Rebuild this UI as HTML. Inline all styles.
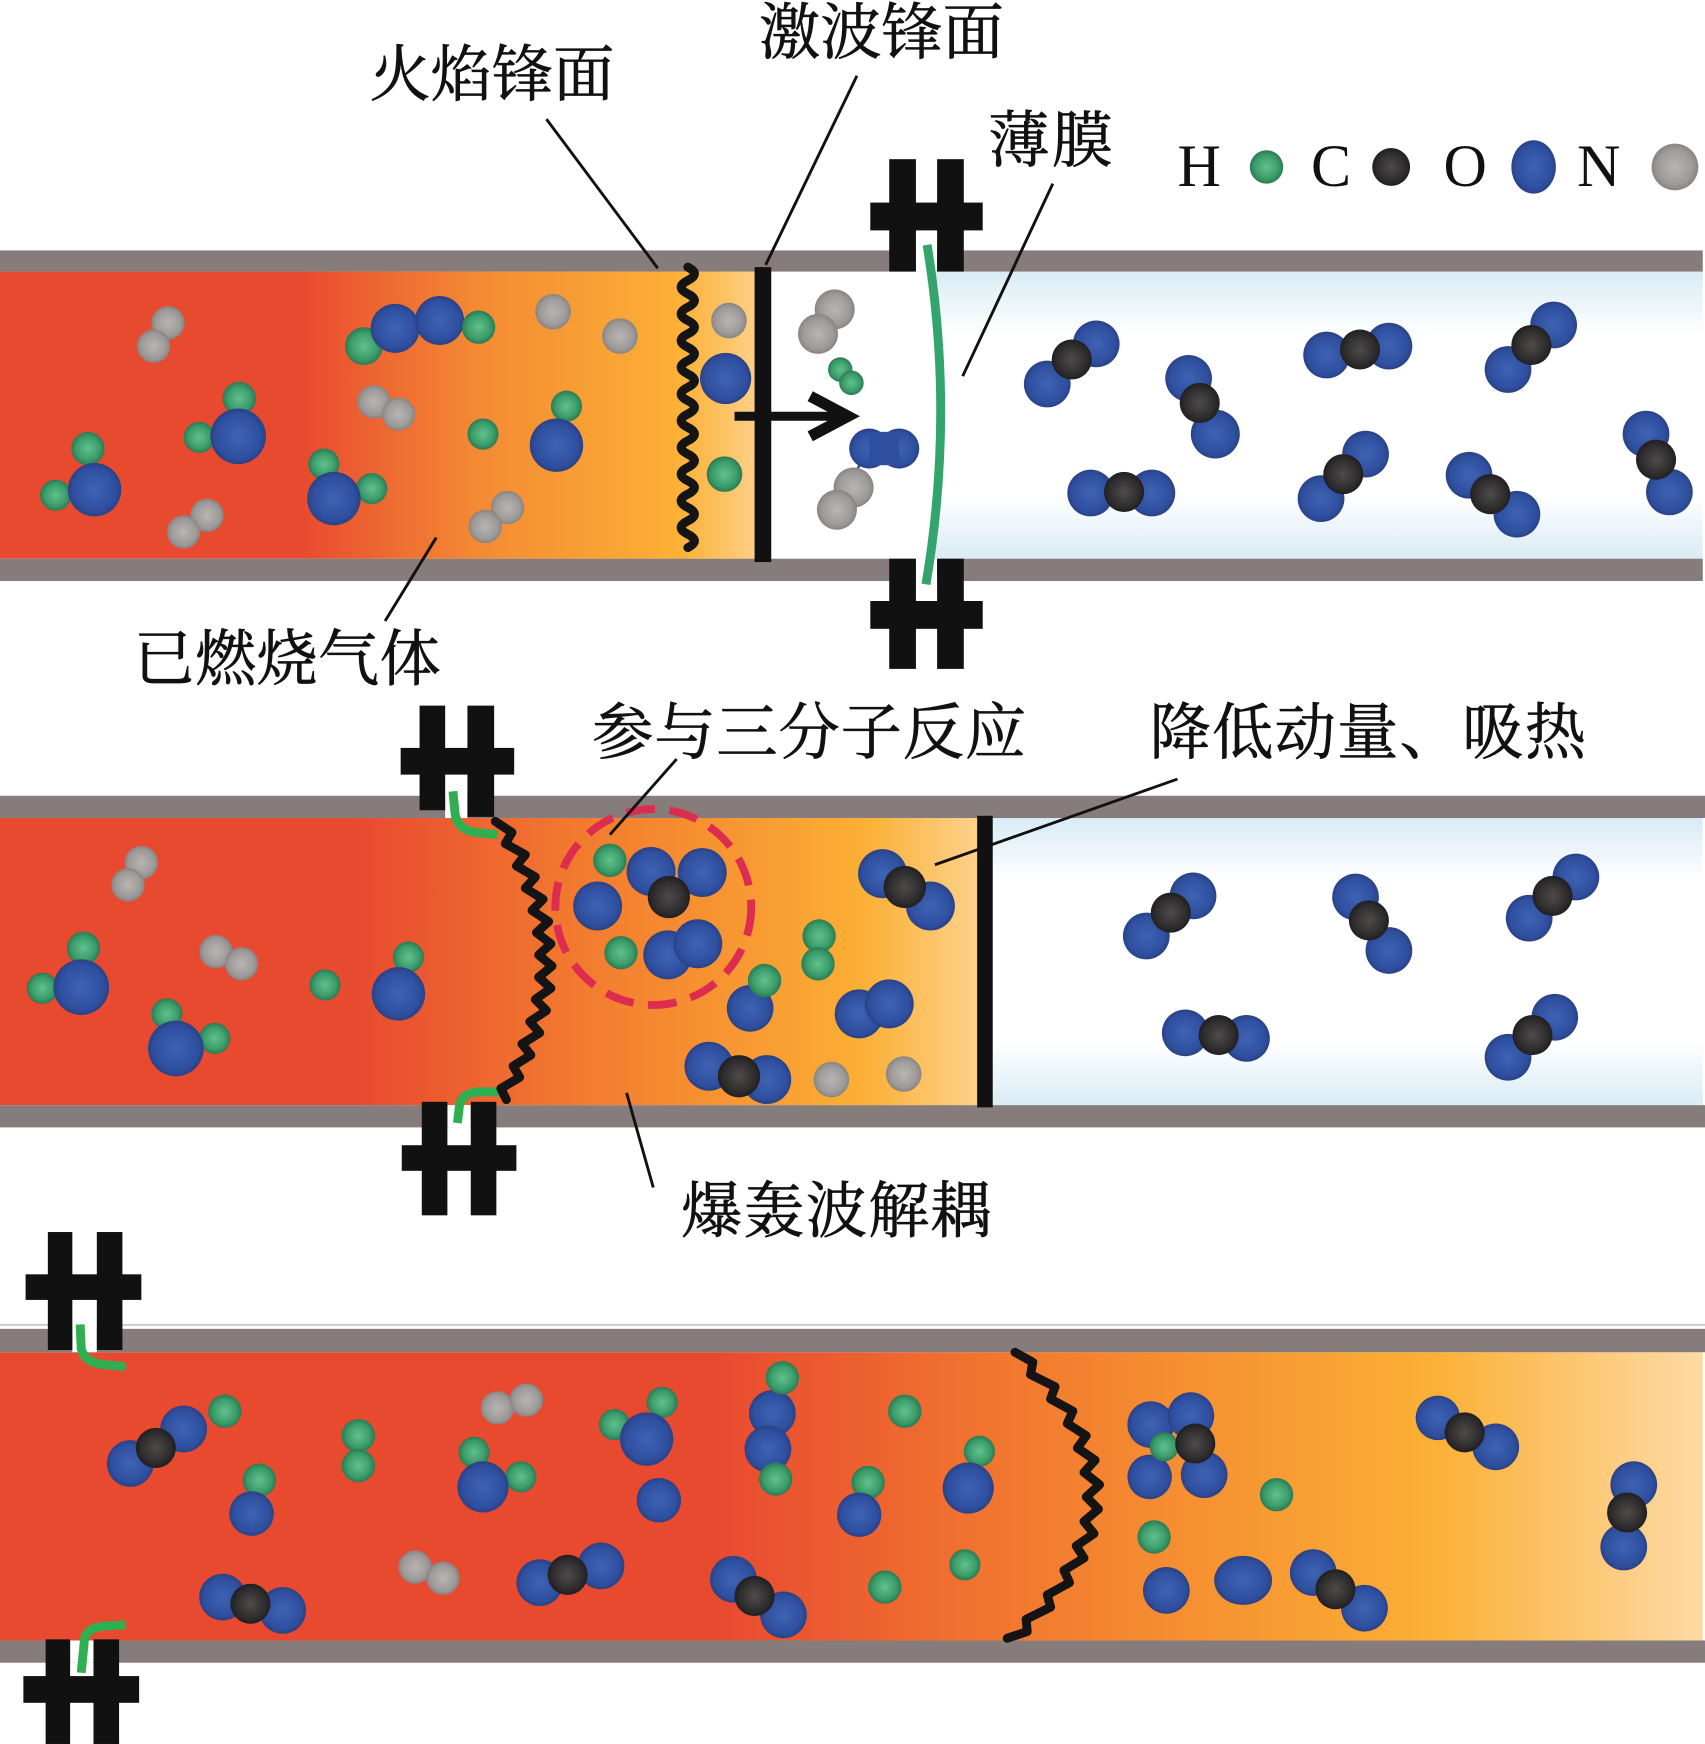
<!DOCTYPE html>
<html lang="zh"><head><meta charset="utf-8"><title>Diagram</title>
<style>
html,body{margin:0;padding:0;background:#fff}
svg{display:block}
.g{fill:url(#ag)}.b{fill:url(#ab)}.k{fill:url(#ak)}.n{fill:url(#an)}
.t{font-family:"Liberation Serif","Noto Serif CJK SC",serif;font-size:55px;fill:#111;stroke:#111;stroke-width:.6}
.l{font-family:"Liberation Serif",serif;font-size:54px;fill:#111}
.ln{stroke:#111;stroke-width:2.6;fill:none}
.c{fill:#111}
.wall{fill:#857c7b}
.fl{fill:none;stroke:#141414;stroke-width:8;stroke-linejoin:round;stroke-linecap:round}
.gf{fill:none;stroke:#2fae52;stroke-width:8}
</style></head><body>
<svg width="1705" height="1744" viewBox="0 0 1532 1567" xmlns="http://www.w3.org/2000/svg">
<defs>
<radialGradient id="ag"><stop offset="0" stop-color="#62c08e"/><stop offset=".7" stop-color="#3b9d6a"/><stop offset="1" stop-color="#2b7a54"/></radialGradient>
<radialGradient id="ab"><stop offset="0" stop-color="#3f63b3"/><stop offset=".8" stop-color="#2f4f9f"/><stop offset="1" stop-color="#2a4185"/></radialGradient>
<radialGradient id="ak"><stop offset="0" stop-color="#4e4c4b"/><stop offset=".8" stop-color="#2c2a2a"/><stop offset="1" stop-color="#201f1f"/></radialGradient>
<radialGradient id="an"><stop offset="0" stop-color="#b8b5b3"/><stop offset=".75" stop-color="#9d9a99"/><stop offset="1" stop-color="#878482"/></radialGradient>
<linearGradient id="t1" gradientUnits="userSpaceOnUse" x1="0" y1="0" x2="692" y2="0"><stop offset="0" stop-color="#e84a30"/><stop offset=".39" stop-color="#e84a30"/><stop offset=".62" stop-color="#f48a34"/><stop offset=".88" stop-color="#fcb035"/><stop offset="1" stop-color="#fdd594"/></linearGradient>
<linearGradient id="t2" gradientUnits="userSpaceOnUse" x1="0" y1="0" x2="890" y2="0"><stop offset="0" stop-color="#e84a30"/><stop offset=".36" stop-color="#e84a30"/><stop offset=".58" stop-color="#f2792f"/><stop offset=".87" stop-color="#fbaf34"/><stop offset="1" stop-color="#fdd594"/></linearGradient>
<linearGradient id="t3" gradientUnits="userSpaceOnUse" x1="0" y1="0" x2="1532" y2="0"><stop offset="0" stop-color="#e84a30"/><stop offset=".42" stop-color="#e84a30"/><stop offset=".6" stop-color="#f27a2f"/><stop offset=".84" stop-color="#fbb035"/><stop offset="1" stop-color="#fddaa6"/></linearGradient>
<linearGradient id="bl" x1="0" y1="0" x2="0" y2="1"><stop offset="0" stop-color="#d9ebf5"/><stop offset=".22" stop-color="#fff"/><stop offset=".78" stop-color="#fff"/><stop offset="1" stop-color="#d9ebf5"/></linearGradient>
</defs>

<!-- Tube 1 -->
<rect x="0" y="244" width="692" height="258" fill="url(#t1)"/>
<rect x="836" y="244" width="694" height="258" fill="url(#bl)"/>
<rect class="wall" x="0" y="225" width="1530" height="19"/>
<rect class="wall" x="0" y="502" width="1530" height="20"/>
<rect x="823" y="143" width="19" height="101" fill="#fff"/>
<rect x="823" y="502" width="19" height="20" fill="#fff"/>
<rect class="c" x="799" y="143" width="24" height="101"/><rect class="c" x="842" y="143" width="24" height="101"/><rect class="c" x="782" y="182" width="101" height="25"/>
<rect class="c" x="799" y="502" width="24" height="99"/><rect class="c" x="842" y="502" width="24" height="99"/><rect class="c" x="782" y="540" width="101" height="25"/>
<path d="M833 220Q858 372 832 525" fill="none" stroke="#33a56c" stroke-width="8"/>
<rect class="c" x="678" y="240" width="15" height="265"/>
<path class="fl" d="M618 240q12 6 0 12t0 12t0 12t0 12t0 12t0 12t0 12t0 12t0 12t0 12t0 12t0 12t0 12t0 12t0 12t0 12t0 12t0 12t0 12t0 12t0 12"/>
<path d="M660 374H758" stroke="#111" stroke-width="8" fill="none"/>
<path d="M728 356L762 374L728 392" stroke="#111" stroke-width="10" fill="none"/>

<circle class="n" cx="151" cy="290" r="15"/><circle class="n" cx="138" cy="311" r="15"/>
<circle class="g" cx="327" cy="311" r="17"/><circle class="b" cx="355" cy="295" r="22"/><circle class="b" cx="395" cy="288" r="22"/><circle class="g" cx="430" cy="294" r="15"/>
<circle class="n" cx="497" cy="280" r="16"/><circle class="n" cx="557" cy="302" r="16"/><circle class="n" cx="655" cy="288" r="16"/>
<circle class="b" cx="652" cy="340" r="23"/><circle class="g" cx="651" cy="426" r="16"/>
<circle class="g" cx="215" cy="358" r="15"/><circle class="g" cx="179" cy="393" r="14"/><circle class="b" cx="214" cy="392" r="25"/>
<circle class="n" cx="336" cy="361" r="15"/><circle class="n" cx="358" cy="372" r="15"/>
<circle class="g" cx="434" cy="390" r="14"/><circle class="g" cx="509" cy="365" r="14"/><circle class="b" cx="500" cy="400" r="24"/>
<circle class="g" cx="79" cy="403" r="15"/><circle class="g" cx="50" cy="445" r="14"/><circle class="b" cx="85" cy="440" r="24"/>
<circle class="g" cx="291" cy="417" r="14"/><circle class="g" cx="334" cy="439" r="14"/><circle class="b" cx="300" cy="448" r="24"/>
<circle class="n" cx="186" cy="463" r="15"/><circle class="n" cx="165" cy="478" r="15"/><circle class="n" cx="456" cy="456" r="15"/><circle class="n" cx="436" cy="473" r="15"/>
<circle class="n" cx="750" cy="278" r="18"/><circle class="n" cx="735" cy="300" r="18"/>
<circle class="g" cx="755" cy="332" r="11"/><circle class="g" cx="765" cy="344" r="11"/>
<path d="M782 403L768 425" stroke="#2a4185" stroke-width="2"/>
<circle class="b" cx="781" cy="403" r="18"/><circle class="b" cx="808" cy="403" r="18"/><rect x="781" y="388" width="27" height="30" fill="#2f4f9f"/>
<circle class="n" cx="767" cy="438" r="18"/><circle class="n" cx="752" cy="458" r="18"/>
<circle class="b" cx="941" cy="345" r="21"/><circle class="b" cx="985" cy="309" r="21"/><circle class="k" cx="963" cy="323" r="18"/>
<circle class="b" cx="1068" cy="340" r="21"/><circle class="b" cx="1092" cy="390" r="22"/><circle class="k" cx="1078" cy="362" r="18"/>
<circle class="b" cx="1192" cy="319" r="21"/><circle class="b" cx="1248" cy="311" r="21"/><circle class="k" cx="1222" cy="314" r="18"/>
<circle class="b" cx="1355" cy="332" r="21"/><circle class="b" cx="1396" cy="292" r="21"/><circle class="k" cx="1376" cy="310" r="18"/>
<circle class="b" cx="980" cy="443" r="21"/><circle class="b" cx="1035" cy="443" r="21"/><circle class="k" cx="1010" cy="442" r="18"/>
<circle class="b" cx="1187" cy="448" r="21"/><circle class="b" cx="1227" cy="408" r="21"/><circle class="k" cx="1207" cy="426" r="18"/>
<circle class="b" cx="1320" cy="427" r="21"/><circle class="b" cx="1363" cy="462" r="21"/><circle class="k" cx="1339" cy="444" r="18"/>
<circle class="b" cx="1479" cy="390" r="21"/><circle class="b" cx="1500" cy="442" r="21"/><circle class="k" cx="1488" cy="413" r="18"/>

<!-- Tube 2 -->
<rect x="0" y="735" width="890" height="258" fill="url(#t2)"/>
<rect x="890" y="735" width="640" height="258" fill="url(#bl)"/>
<rect class="wall" x="0" y="715" width="1532" height="20"/>
<rect class="wall" x="0" y="993" width="1532" height="20"/>
<rect x="400" y="700" width="20" height="35" fill="#fff"/><rect x="402" y="993" width="21" height="20" fill="#fff"/>
<rect class="c" x="377" y="634" width="23" height="94"/><rect class="c" x="420" y="634" width="24" height="100"/><rect class="c" x="360" y="672" width="102" height="24"/>
<rect class="c" x="379" y="990" width="23" height="102"/><rect class="c" x="423" y="990" width="23" height="102"/><rect class="c" x="361" y="1029" width="103" height="23"/>
<path class="gf" d="M407 711L409 732Q412 746 428 748L447 750"/>
<path class="gf" d="M411 1009L413 992Q416 982 430 981L449 981"/>
<polyline class="fl" points="445,738 460,748 454,758 472,768 464,778 481,788 472,798 488,808 478,818 493,828 482,838 495,848 484,858 496,868 484,878 495,888 481,898 491,908 476,918 485,928 469,938 477,948 461,958 467,968 450,978 455,988"/>
<rect class="c" x="878" y="733" width="14" height="262"/>
<circle cx="587" cy="815" r="88" fill="none" stroke="#dc2c50" stroke-width="7" stroke-dasharray="26 13"/>

<circle class="n" cx="127" cy="775" r="15"/><circle class="n" cx="115" cy="795" r="15"/>
<circle class="g" cx="75" cy="852" r="15"/><circle class="g" cx="38" cy="888" r="14"/><circle class="b" cx="73" cy="887" r="25"/>
<circle class="n" cx="194" cy="855" r="15"/><circle class="n" cx="217" cy="866" r="15"/>
<circle class="g" cx="292" cy="885" r="14"/><circle class="g" cx="367" cy="860" r="14"/><circle class="b" cx="358" cy="893" r="24"/>
<circle class="g" cx="150" cy="911" r="14"/><circle class="g" cx="193" cy="933" r="14"/><circle class="b" cx="158" cy="942" r="25"/>
<circle class="g" cx="548" cy="773" r="15"/><circle class="b" cx="585" cy="783" r="22"/><circle class="b" cx="631" cy="784" r="22"/><circle class="k" cx="601" cy="806" r="19"/>
<circle class="b" cx="537" cy="814" r="22"/><circle class="g" cx="558" cy="856" r="15"/><circle class="b" cx="600" cy="858" r="22"/><circle class="b" cx="627" cy="848" r="22"/>
<circle class="b" cx="674" cy="906" r="21"/><circle class="g" cx="687" cy="881" r="15"/>
<circle class="g" cx="736" cy="841" r="15"/><circle class="g" cx="735" cy="866" r="15"/>
<circle class="b" cx="772" cy="911" r="22"/><circle class="b" cx="799" cy="902" r="22"/>
<circle class="b" cx="793" cy="785" r="22"/><circle class="b" cx="836" cy="814" r="22"/><circle class="k" cx="813" cy="797" r="19"/>
<circle class="b" cx="637" cy="958" r="22"/><circle class="b" cx="689" cy="970" r="22"/><circle class="k" cx="664" cy="967" r="19"/>
<circle class="n" cx="747" cy="970" r="16"/><circle class="n" cx="812" cy="965" r="16"/>
<circle class="b" cx="1030" cy="841" r="21"/><circle class="b" cx="1072" cy="805" r="21"/><circle class="k" cx="1052" cy="820" r="18"/>
<circle class="b" cx="1218" cy="806" r="21"/><circle class="b" cx="1248" cy="854" r="21"/><circle class="k" cx="1230" cy="827" r="18"/>
<circle class="b" cx="1374" cy="825" r="21"/><circle class="b" cx="1416" cy="788" r="21"/><circle class="k" cx="1395" cy="805" r="18"/>
<circle class="b" cx="1065" cy="928" r="21"/><circle class="b" cx="1120" cy="933" r="21"/><circle class="k" cx="1095" cy="930" r="18"/>
<circle class="b" cx="1355" cy="950" r="21"/><circle class="b" cx="1397" cy="914" r="21"/><circle class="k" cx="1377" cy="930" r="18"/>

<!-- Tube 3 -->
<rect x="0" y="1190" width="1532" height="1" fill="#aaa"/>
<rect x="0" y="1215" width="1530" height="259" fill="url(#t3)"/>
<rect class="wall" x="0" y="1194" width="1532" height="21"/>
<rect class="wall" x="0" y="1474" width="1532" height="20"/>
<rect x="65" y="1180" width="22" height="35" fill="#fff"/><rect x="63" y="1474" width="21" height="20" fill="#fff"/>
<rect class="c" x="43" y="1107" width="22" height="106"/><rect class="c" x="87" y="1107" width="23" height="106"/><rect class="c" x="23" y="1145" width="104" height="23"/>
<rect class="c" x="41" y="1473" width="22" height="94"/><rect class="c" x="84" y="1473" width="23" height="94"/><rect class="c" x="21" y="1506" width="104" height="24"/>
<path class="gf" d="M72 1190L73 1212Q76 1224 92 1226L113 1228"/>
<path class="gf" d="M73 1503L76 1472Q79 1462 94 1461L113 1460"/>
<polyline class="fl" points="912,1215 928,1224 926,1235 948,1246 944,1257 964,1268 959,1279 976,1290 968,1301 984,1312 974,1323 988,1334 976,1345 987,1356 974,1367 983,1378 967,1389 974,1400 956,1411 961,1422 941,1433 944,1444 922,1455 923,1466 905,1472"/>

<circle class="b" cx="117" cy="1315" r="21"/><circle class="b" cx="165" cy="1284" r="21"/><circle class="k" cx="140" cy="1301" r="18"/>
<circle class="g" cx="202" cy="1268" r="15"/><circle class="g" cx="322" cy="1290" r="15"/><circle class="g" cx="322" cy="1317" r="15"/>
<circle class="g" cx="233" cy="1330" r="15"/><circle class="b" cx="226" cy="1360" r="20"/>
<circle class="n" cx="447" cy="1265" r="15"/><circle class="n" cx="473" cy="1258" r="15"/>
<circle class="g" cx="426" cy="1305" r="14"/><circle class="g" cx="468" cy="1327" r="14"/><circle class="b" cx="434" cy="1336" r="23"/>
<circle class="g" cx="552" cy="1280" r="14"/><circle class="g" cx="595" cy="1260" r="14"/><circle class="b" cx="581" cy="1293" r="24"/>
<circle class="b" cx="592" cy="1348" r="20"/>
<circle class="b" cx="694" cy="1270" r="21"/><circle class="b" cx="690" cy="1302" r="21"/><circle class="g" cx="703" cy="1238" r="15"/><circle class="g" cx="697" cy="1329" r="15"/>
<circle class="g" cx="813" cy="1268" r="15"/><circle class="g" cx="780" cy="1332" r="15"/><circle class="b" cx="772" cy="1361" r="20"/>
<circle class="g" cx="880" cy="1304" r="14"/><circle class="b" cx="870" cy="1337" r="23"/>
<circle class="g" cx="795" cy="1426" r="15"/><circle class="g" cx="867" cy="1406" r="14"/>
<circle class="b" cx="200" cy="1435" r="21"/><circle class="b" cx="254" cy="1447" r="21"/><circle class="k" cx="225" cy="1441" r="18"/>
<circle class="n" cx="373" cy="1408" r="15"/><circle class="n" cx="398" cy="1418" r="15"/>
<circle class="b" cx="485" cy="1422" r="21"/><circle class="b" cx="540" cy="1407" r="21"/><circle class="k" cx="510" cy="1415" r="18"/>
<circle class="b" cx="659" cy="1419" r="21"/><circle class="b" cx="704" cy="1451" r="21"/><circle class="k" cx="678" cy="1434" r="18"/>
<circle class="b" cx="1034" cy="1280" r="21"/><circle class="b" cx="1070" cy="1272" r="21"/><circle class="b" cx="1033" cy="1327" r="20"/><circle class="b" cx="1082" cy="1325" r="21"/>
<circle class="g" cx="1046" cy="1300" r="13"/><circle class="k" cx="1074" cy="1297" r="18"/>
<circle class="g" cx="1147" cy="1343" r="15"/><circle class="g" cx="1037" cy="1381" r="15"/>
<circle class="b" cx="1048" cy="1429" r="21"/><ellipse class="b" cx="1117" cy="1420" rx="26" ry="22"/>
<circle class="b" cx="1180" cy="1413" r="21"/><circle class="b" cx="1226" cy="1445" r="21"/><circle class="k" cx="1200" cy="1428" r="18"/>
<circle class="b" cx="1292" cy="1274" r="20"/><circle class="b" cx="1344" cy="1300" r="21"/><circle class="k" cx="1316" cy="1287" r="18"/>
<circle class="b" cx="1468" cy="1334" r="21"/><circle class="b" cx="1459" cy="1390" r="21"/><circle class="k" cx="1462" cy="1359" r="18"/>

<!-- Leaders -->
<path class="ln" d="M491 107L591 241M770 68L688 238M946 165L865 338M392 483L346 558M608 682L548 750M1058 700L840 777M563 982L587 1067"/>

<!-- Labels -->
<text class="t" x="332" y="86" textLength="220">火焰锋面</text>
<text class="t" x="682" y="48" textLength="220">激波锋面</text>
<text class="t" x="888" y="145" textLength="112">薄膜</text>
<text class="t" x="120" y="611" textLength="276">已燃烧气体</text>
<text class="t" x="532" y="677" textLength="390">参与三分子反应</text>
<text class="t" x="1033" y="677" textLength="392">降低动量、吸热</text>
<text class="t" x="612" y="1107" textLength="279">爆轰波解耦</text>

<!-- Legend -->
<text class="l" x="1058" y="167">H</text><circle class="g" cx="1138" cy="150" r="15"/>
<text class="l" x="1178" y="167">C</text><circle class="k" cx="1250" cy="150" r="17"/>
<text class="l" x="1297" y="167">O</text><ellipse class="b" cx="1378" cy="150" rx="20" ry="24"/>
<text class="l" x="1417" y="167">N</text><circle class="n" cx="1505" cy="150" r="21"/>
</svg>
</body></html>
